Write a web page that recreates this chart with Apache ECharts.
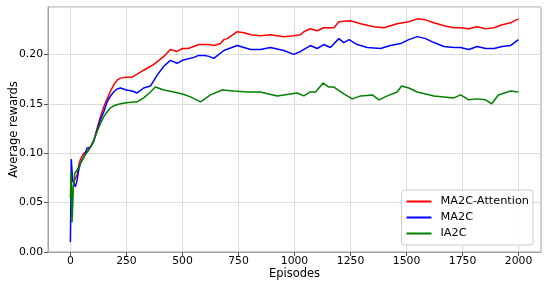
<!DOCTYPE html>
<html>
<head>
<meta charset="utf-8">
<script src="https://cdn.jsdelivr.net/npm/echarts@6/dist/echarts.min.js"></script>
<style>
  html, body { margin: 0; padding: 0; background: #fff; }
  #container { width: 550px; height: 286px; }
</style>
</head>
<body>
<div id="container"></div>
<script>
// episodes / rewards
var attnEp  = [0, 8, 15, 30, 37, 45, 60, 74, 89, 104, 119, 134, 149, 164, 179, 193, 208, 223, 250, 275, 298, 327, 350, 372, 395, 417, 446, 476, 500, 525, 551, 573, 600, 618, 640, 670, 685, 700, 744, 775, 804, 848, 893, 952, 997, 1027, 1042, 1071, 1101, 1131, 1176, 1198, 1250, 1295, 1354, 1399, 1458, 1510, 1548, 1585, 1622, 1667, 1711, 1741, 1778, 1815, 1853, 1890, 1927, 1964, 1999];
var attnVal = [0.042, 0.054, 0.071, 0.078, 0.088, 0.094, 0.100, 0.101, 0.106, 0.113, 0.125, 0.137, 0.147, 0.155, 0.163, 0.169, 0.174, 0.176, 0.177, 0.177, 0.180, 0.184, 0.187, 0.190, 0.194, 0.198, 0.205, 0.203, 0.206, 0.206, 0.208, 0.210, 0.210, 0.210, 0.209, 0.211, 0.215, 0.216, 0.223, 0.222, 0.220, 0.219, 0.220, 0.218, 0.219, 0.220, 0.223, 0.226, 0.224, 0.227, 0.227, 0.233, 0.234, 0.231, 0.228, 0.227, 0.231, 0.233, 0.236, 0.235, 0.232, 0.229, 0.227, 0.227, 0.226, 0.228, 0.226, 0.227, 0.230, 0.232, 0.236];

var ma2cEp  = [0, 4, 10, 15, 22, 30, 37, 45, 60, 74, 89, 104, 119, 134, 149, 164, 179, 193, 208, 223, 250, 275, 298, 327, 357, 387, 417, 446, 476, 500, 551, 573, 600, 618, 640, 685, 744, 804, 848, 893, 952, 997, 1027, 1071, 1101, 1131, 1160, 1198, 1220, 1243, 1280, 1325, 1384, 1428, 1473, 1510, 1548, 1585, 1622, 1667, 1711, 1741, 1778, 1815, 1853, 1890, 1927, 1964, 1999];
var ma2cVal = [0.010, 0.094, 0.072, 0.071, 0.066, 0.073, 0.083, 0.090, 0.096, 0.105, 0.106, 0.112, 0.123, 0.134, 0.142, 0.152, 0.158, 0.162, 0.165, 0.166, 0.164, 0.163, 0.161, 0.166, 0.168, 0.179, 0.188, 0.194, 0.191, 0.194, 0.197, 0.199, 0.199, 0.198, 0.196, 0.204, 0.209, 0.205, 0.205, 0.207, 0.204, 0.200, 0.203, 0.209, 0.206, 0.210, 0.207, 0.216, 0.212, 0.215, 0.210, 0.207, 0.206, 0.209, 0.211, 0.215, 0.218, 0.216, 0.212, 0.208, 0.207, 0.207, 0.205, 0.208, 0.206, 0.206, 0.208, 0.209, 0.215];

var ia2cEp  = [0, 3, 7, 10, 13, 20, 37, 45, 60, 74, 89, 104, 119, 134, 149, 164, 179, 193, 223, 250, 298, 327, 357, 379, 417, 461, 500, 536, 580, 600, 625, 677, 729, 789, 848, 923, 982, 1012, 1042, 1071, 1094, 1128, 1153, 1176, 1220, 1258, 1295, 1347, 1377, 1414, 1458, 1478, 1510, 1548, 1585, 1622, 1667, 1711, 1741, 1778, 1815, 1853, 1880, 1910, 1964, 1999];
var ia2cVal = [0.055, 0.080, 0.030, 0.045, 0.066, 0.080, 0.085, 0.090, 0.096, 0.101, 0.106, 0.113, 0.122, 0.130, 0.137, 0.142, 0.146, 0.148, 0.150, 0.151, 0.152, 0.156, 0.162, 0.167, 0.164, 0.162, 0.160, 0.157, 0.152, 0.155, 0.159, 0.164, 0.163, 0.162, 0.162, 0.158, 0.160, 0.161, 0.158, 0.162, 0.162, 0.171, 0.167, 0.167, 0.160, 0.155, 0.158, 0.159, 0.154, 0.158, 0.162, 0.168, 0.166, 0.162, 0.160, 0.158, 0.157, 0.156, 0.159, 0.154, 0.155, 0.154, 0.150, 0.159, 0.163, 0.162];

var xTicks = [0, 250, 500, 750, 1000, 1250, 1500, 1750, 2000];
var seriesNames = ['MA2C-Attention', 'MA2C', 'IA2C'];

function pairs(ep, val) {
  var out = [];
  for (var i = 0; i < ep.length; i++) out.push([ep[i], val[i]]);
  return out;
}

var font = 'DejaVu Sans';
var gridColor = '#dcdcdc';
var tickSize = 10.8;
var nameSize = 11.5;
var chart = echarts.init(document.getElementById('container'), null, { renderer: 'canvas' });

// vertical grid lines at the x tick values (the axis itself is padded to -100..2100)
var xGrid = xTicks.map(function (t) { return { xAxis: t }; });

var option = {
  animation: false,
  textStyle: { fontFamily: font },
  grid: {
    left: 48, right: 9, top: 7, bottom: 34,
    containLabel: false, outerBoundsMode: 'none',
    show: true, borderColor: '#a0a0a0', borderWidth: 1
  },
  legend: {
    orient: 'vertical',
    right: 17,
    bottom: 41,
    data: seriesNames,
    icon: 'rect',
    itemWidth: 25,
    itemHeight: 2,
    itemGap: 3,
    padding: [5, 4, 5, 5],
    borderColor: '#cccccc',
    borderWidth: 1,
    borderRadius: 3,
    backgroundColor: 'rgba(255,255,255,0.85)',
    textStyle: { fontFamily: font, fontSize: 11.3, color: '#000', lineHeight: 13, padding: [0, 0, 0, 4] }
  },
  xAxis: {
    type: 'value',
    min: -100,
    max: 2100,
    name: 'Episodes',
    nameLocation: 'middle',
    nameGap: 16,
    nameMoveOverlap: false,
    nameTextStyle: { fontFamily: font, fontSize: nameSize, color: '#000' },
    axisLine: { show: true, onZero: false, lineStyle: { color: '#a0a0a0' } },
    axisTick: { show: true, length: 4, lineStyle: { color: '#555' }, customValues: xTicks },
    axisLabel: {
      fontFamily: font, fontSize: tickSize, color: '#000', margin: 4, customValues: xTicks,
      formatter: function (v) { return String(v); }
    },
    splitLine: { show: false }
  },
  yAxis: {
    type: 'value',
    min: 0,
    max: 0.248,
    interval: 0.05,
    name: 'Average rewards',
    nameLocation: 'middle',
    nameGap: 28,
    nameMoveOverlap: false,
    nameTextStyle: { fontFamily: font, fontSize: nameSize, color: '#000' },
    axisLine: { show: true, onZero: false, lineStyle: { color: '#a0a0a0' } },
    axisTick: { show: true, length: 4, lineStyle: { color: '#555' } },
    axisLabel: {
      fontFamily: font, fontSize: tickSize, color: '#000', margin: 5, showMaxLabel: false,
      formatter: function (v) { return v.toFixed(2); }
    },
    splitLine: { show: true, lineStyle: { color: gridColor, width: 1 } }
  },
  series: [
    {
      type: 'line', data: [], z: 0, silent: true,
      markLine: {
        z: 0, silent: true, symbol: 'none', animation: false,
        label: { show: false },
        lineStyle: { color: gridColor, width: 1, type: 'solid' },
        emphasis: { disabled: true },
        data: xGrid
      }
    },
    { name: seriesNames[0], type: 'line', z: 3, showSymbol: false, color: '#ff0000', lineStyle: { width: 1.5 }, data: pairs(attnEp, attnVal) },
    { name: seriesNames[1], type: 'line', z: 3, showSymbol: false, color: '#0000ff', lineStyle: { width: 1.5 }, data: pairs(ma2cEp, ma2cVal) },
    { name: seriesNames[2], type: 'line', z: 3, showSymbol: false, color: '#008000', lineStyle: { width: 1.5 }, data: pairs(ia2cEp, ia2cVal) }
  ]
};

chart.setOption(option);
</script>
</body>
</html>
